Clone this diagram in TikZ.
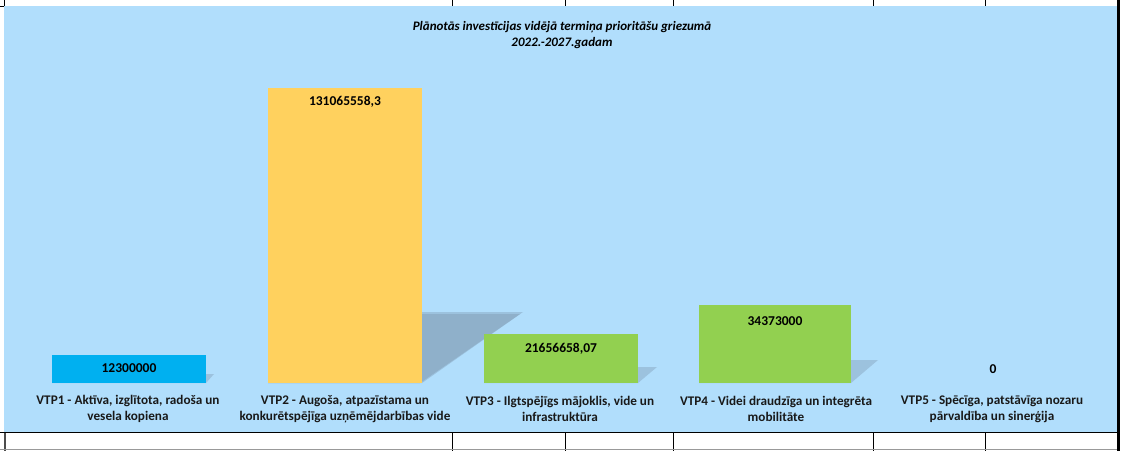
\documentclass[tikz,border=0pt]{standalone}
\usepackage{fontspec}
\setmainfont{Carlito}
\definecolor{bgblue}{RGB}{177,222,252}
\definecolor{barcyan}{RGB}{0,176,240}
\definecolor{baryellow}{RGB}{255,209,94}
\definecolor{bargreen}{RGB}{146,208,80}
\definecolor{shadowc}{RGB}{143,176,202}
\tikzset{
  cat/.style={font=\fontsize{13.2}{16}\selectfont\bfseries, align=center, text=black!90, inner sep=0pt},
  val/.style={font=\fontsize{13.5}{14}\selectfont\bfseries, text=black, inner sep=0pt},
  grid/.style={draw=black, line width=0.8pt},
  shad/.style={fill=shadowc},
}
\begin{document}
\begin{tikzpicture}[x=1pt,y=-1pt]
\useasboundingbox (0,0) rectangle (1128,451);
\fill[white] (0,0) rectangle (1128,451);
% chart area
\fill[bgblue] (4,6) rectangle (1117,432);
% grid
\foreach \x in {452,565,673,873,985} {
  \draw[grid] (\x,0) -- (\x,6);
  \draw[grid] (\x,433) -- (\x,451);
}
\draw[grid] (4.5,0) -- (4.5,6);
\draw[grid] (0,6.5) -- (4,6.5);
\draw[grid] (0,432.8) -- (1117,432.8);
\draw[draw=black!70, line width=2pt] (5,433) -- (5,451);
\draw[draw=black!40, line width=1pt] (0,449.5) -- (1117,449.5);
\draw[draw=black, line width=3pt] (1118.5,0) -- (1118.5,451);
% title
\node[font=\fontsize{13}{16}\selectfont\bfseries\itshape, align=center, inner sep=0pt] (title) at (562,35)
  {Plānotās investīcijas vidējā termiņa prioritāšu griezumā\\2022.-2027.gadam};
% shadows
\fill[shad, opacity=0.6] (268,383) -- (422,383) -- (523,312) -- (368,312) -- cycle;
\fill[shad] (268,383) -- (420,383) -- (520,314) -- (368,314) -- cycle;
\fill[shad, opacity=0.6] (52,383) -- (206,383) -- (214,374) -- (60,374) -- cycle;
\fill[shad, opacity=0.6] (484,383) -- (638,383) -- (657,367) -- (503,367) -- cycle;
\fill[shad, opacity=0.6] (699,383) -- (851,383) -- (878,360) -- (726,360) -- cycle;
% bars
\fill[barcyan] (52,355) rectangle (206,383);
\fill[baryellow] (268,88) rectangle (422,383);
\fill[bargreen] (484,334) rectangle (638,383);
\fill[bargreen] (699,305) rectangle (851,383);
% values
\node[val] (v1) at (129,368) {12300000};
\node[val] (v2) at (345,102) {131065558,3};
\node[val] (v3) at (561,349) {21656658,07};
\node[val] (v4) at (775,321) {34373000};
\node[val] (v5) at (993,369) {0};
% categories
\node[cat] (c1) at (128,409) {VTP1 - Aktīva, izglītota, radoša un\\vesela kopiena};
\node[cat] (c2) at (345,409) {VTP2 - Augoša, atpazīstama un\\konkurētspējīga uzņēmējdarbības vide};
\node[cat] (c3) at (560,409) {VTP3 - Ilgtspējīgs mājoklis, vide un\\infrastruktūra};
\node[cat] (c4) at (776,409) {VTP4 - Videi draudzīga un integrēta\\mobilitāte};
\node[cat] (c5) at (992,409) {VTP5 - Spēcīga, patstāvīga nozaru\\pārvaldība un sinerģija};
\end{tikzpicture}
\end{document}
